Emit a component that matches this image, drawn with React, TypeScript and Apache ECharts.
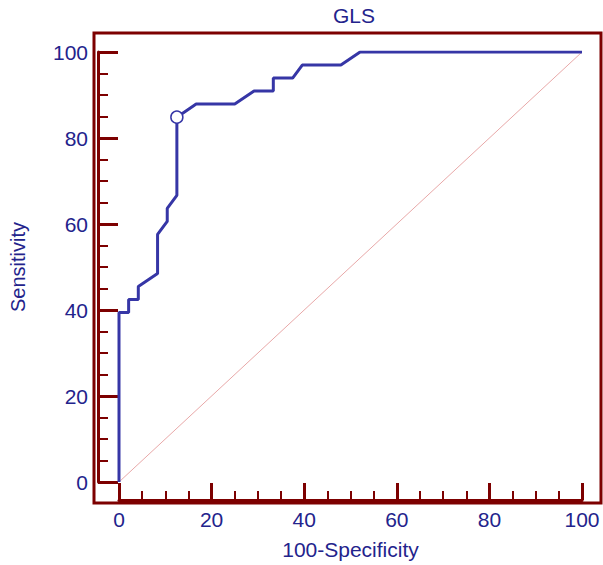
import React, { useEffect, useRef } from "react";
import * as echarts from "echarts";

const title = "GLS";
const xName = "100-Specificity";
const yName = "Sensitivity";
// ROC curve points (100-Specificity, Sensitivity)
const fprValues = [0, 0, 2.08, 2.08, 4.17, 4.17, 8.33, 8.33, 10.42, 10.42, 12.5, 12.5, 16.67, 25, 29.17, 33.33, 33.33, 37.5, 39.58, 47.92, 52.08, 100];
const tprValues = [0, 39.39, 39.39, 42.42, 42.42, 45.45, 48.48, 57.58, 60.61, 63.64, 66.67, 84.85, 87.88, 87.88, 90.91, 90.91, 93.94, 93.94, 96.97, 96.97, 100, 100];
// optimal criterion point
const optimalPoint = [12.5, 84.85];
const diagonal = [[0, 0], [100, 100]];

const frameColor = "#7d0000";
const textColor = "#23238c";
const curveColor = "#3636a6";
const font = "Liberation Sans, Arial, sans-serif";

export default function App() {
  const ref = useRef<HTMLDivElement>(null);
  useEffect(() => {
    if (!ref.current) return;
    const chart = echarts.init(ref.current, undefined, { renderer: "svg" });
    const curve = fprValues.map((x, i) => [x, tprValues[i]]);
    const axisCommon = {
      type: "value",
      min: 0,
      max: 100,
      interval: 20,
      splitLine: { show: false },
      axisLine: { show: true, onZero: false, lineStyle: { color: frameColor, width: 3 } },
      nameLocation: "middle",
    };
    chart.setOption({
      animation: false,
      backgroundColor: "#ffffff",
      title: {
        text: title,
        left: 349,
        top: 0,
        textAlign: "center",
        textStyle: { color: textColor, fontSize: 21, fontWeight: "normal", fontFamily: font },
      },
      grid: { left: 115, right: 21, top: 52, bottom: 80 },
      xAxis: {
        ...axisCommon,
        offset: 18,
        name: xName,
        nameGap: 39,
        nameTextStyle: { color: textColor, fontSize: 21, fontFamily: font },
        axisLabel: { color: textColor, fontSize: 21, fontFamily: font, margin: 9 },
        axisTick: { show: true, inside: true, length: 17, lineStyle: { color: frameColor, width: 3 } },
        minorTick: { show: true, splitNumber: 4, length: 9, lineStyle: { color: frameColor, width: 2 } },
      },
      yAxis: {
        ...axisCommon,
        offset: 21,
        name: yName,
        nameGap: 70,
        nameTextStyle: { color: textColor, fontSize: 20, fontFamily: font },
        axisLabel: { color: textColor, fontSize: 21, fontFamily: font, margin: 10 },
        axisTick: { show: true, inside: true, length: 20, lineStyle: { color: frameColor, width: 3 } },
        minorTick: { show: true, splitNumber: 4, length: 10, lineStyle: { color: frameColor, width: 2 } },
      },
      graphic: [
        {
          type: "rect",
          shape: { x: 94, y: 33, width: 507, height: 470 },
          style: { fill: "none", stroke: frameColor, lineWidth: 3 },
          z: 10,
        },
      ],
      series: [
        {
          type: "line",
          data: diagonal,
          showSymbol: false,
          lineStyle: { color: "#e8a8a8", width: 1 },
          z: 1,
        },
        {
          type: "line",
          data: curve,
          showSymbol: false,
          lineStyle: { color: curveColor, width: 3 },
          z: 2,
        },
        {
          type: "scatter",
          data: [optimalPoint],
          symbol: "circle",
          symbolSize: 12,
          itemStyle: { color: "#ffffff", borderColor: curveColor, borderWidth: 1.5, opacity: 1 },
          z: 3,
        },
      ],
    });
    return () => chart.dispose();
  }, []);
  return (
    <div
      ref={ref}
      style={{ position: "fixed", left: 0, top: 0, width: 603, height: 565 }}
    />
  );
}
